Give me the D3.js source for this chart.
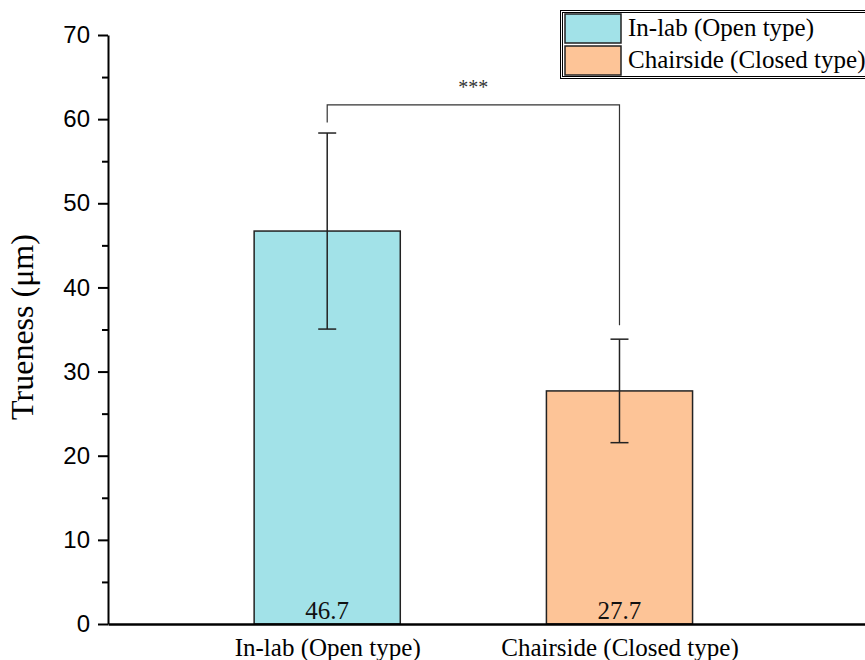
<!DOCTYPE html>
<html>
<head>
<meta charset="utf-8">
<script src="https://cdn.jsdelivr.net/npm/d3@7"></script>
<style>
  html, body { margin: 0; padding: 0; background: #fff; }
  svg { display: block; }
</style>
</head>
<body>
<svg id="chart" width="865" height="660"></svg>
<script>
// Trueness of in-lab vs chairside scanning systems (mean ± SD)
const categories = ["In-lab (Open type)", "Chairside (Closed type)"];
const means = [46.7, 27.7];
const sds = [11.65, 6.15];
const fills = ["#a2e2e8", "#fdc497"];
const yTicks = [0, 10, 20, 30, 40, 50, 60, 70];
const yMinorTicks = [5, 15, 25, 35, 45, 55, 65];
const sigLabel = "***";
const sigLevel = 61.7;
const sigLegEnds = [59.6, 35.5];
const yTitle = "Trueness (μm)";

const svg = d3.select("#chart");
const W = 865, H = 660;
const plotLeft = 108, plotTop = 35, plotBottom = 624;

const y = d3.scaleLinear().domain([0, 70]).range([plotBottom, plotTop]);
// category positions 1 and 2 on a continuous x axis
const x = d3.scaleLinear().domain([0.25, 2.84]).range([plotLeft, W]);
const barHalf = 0.25; // half of bar width in category units

const serif = "'Times New Roman', 'Liberation Serif', serif";
const sans = "Arial, 'Liberation Sans', sans-serif";

// bars
const g = svg.append("g");
g.selectAll("rect.bar")
  .data(means)
  .join("rect")
  .attr("class", "bar")
  .attr("x", (d, i) => x(i + 1 - barHalf))
  .attr("width", (d, i) => x(i + 1 + barHalf) - x(i + 1 - barHalf))
  .attr("y", d => y(d))
  .attr("height", d => y(0) - y(d))
  .attr("fill", (d, i) => fills[i])
  .attr("stroke", "#222")
  .attr("stroke-width", 1.5);

// error bars
const capHalf = 9;
const eb = g.selectAll("g.err").data(means).join("g").attr("class", "err");
eb.append("line")
  .attr("x1", (d, i) => x(i + 1)).attr("x2", (d, i) => x(i + 1))
  .attr("y1", (d, i) => y(d + sds[i])).attr("y2", (d, i) => y(d - sds[i]))
  .attr("stroke", "#222").attr("stroke-width", 1.5);
eb.append("line")
  .attr("x1", (d, i) => x(i + 1) - capHalf).attr("x2", (d, i) => x(i + 1) + capHalf)
  .attr("y1", (d, i) => y(d + sds[i])).attr("y2", (d, i) => y(d + sds[i]))
  .attr("stroke", "#222").attr("stroke-width", 1.5);
eb.append("line")
  .attr("x1", (d, i) => x(i + 1) - capHalf).attr("x2", (d, i) => x(i + 1) + capHalf)
  .attr("y1", (d, i) => y(d - sds[i])).attr("y2", (d, i) => y(d - sds[i]))
  .attr("stroke", "#222").attr("stroke-width", 1.5);

// value labels inside bars
g.selectAll("text.val")
  .data(means)
  .join("text")
  .attr("class", "val")
  .attr("x", (d, i) => x(i + 1))
  .attr("y", plotBottom - 5)
  .attr("text-anchor", "middle")
  .attr("font-family", serif)
  .attr("font-size", 25)
  .attr("fill", "#111")
  .text(d => d.toFixed(1));

// significance bracket
const brX1 = x(1), brX2 = x(2), brY = y(sigLevel);
svg.append("path")
  .attr("d", `M${brX1},${y(sigLegEnds[0])}V${brY}H${brX2}V${y(sigLegEnds[1])}`)
  .attr("fill", "none")
  .attr("stroke", "#333")
  .attr("stroke-width", 1.2);
svg.append("text")
  .attr("x", (brX1 + brX2) / 2)
  .attr("y", brY - 11)
  .attr("text-anchor", "middle")
  .attr("font-family", serif)
  .attr("font-size", 20)
  .attr("fill", "#333")
  .text(sigLabel);

// y axis
const yAxis = d3.axisLeft(y).tickValues(yTicks).tickSize(10).tickSizeOuter(0).tickPadding(8);
const ya = svg.append("g").attr("transform", `translate(${plotLeft},0)`).call(yAxis);
ya.select(".domain").attr("stroke", "#000").attr("stroke-width", 2);
ya.selectAll(".tick line").attr("stroke", "#000").attr("stroke-width", 2);
ya.selectAll(".tick text")
  .attr("font-family", sans).attr("font-size", 24).attr("fill", "#000");
const yMinor = d3.axisLeft(y).tickValues(yMinorTicks).tickSize(6).tickFormat("");
const ym = svg.append("g").attr("transform", `translate(${plotLeft},0)`).call(yMinor);
ym.select(".domain").remove();
ym.selectAll(".tick line").attr("stroke", "#000").attr("stroke-width", 2);

// x axis
const xAxis = d3.axisBottom(x).tickValues([1, 2]).tickSize(0).tickSizeOuter(0).tickPadding(14)
  .tickFormat((d, i) => categories[i]);
const xa = svg.append("g").attr("transform", `translate(0,${plotBottom})`).call(xAxis);
xa.select(".domain").attr("stroke", "#000").attr("stroke-width", 2.5);
xa.selectAll(".tick text")
  .attr("font-family", serif).attr("font-size", 25).attr("fill", "#000");

// y axis title
svg.append("text")
  .attr("transform", `translate(33,327) rotate(-90)`)
  .attr("text-anchor", "middle")
  .attr("font-family", serif)
  .attr("font-size", 32)
  .attr("fill", "#000")
  .text(yTitle);

// legend
const lg = svg.append("g");
lg.append("rect").attr("x", 560.5).attr("y", 10.5).attr("width", 310).attr("height", 68)
  .attr("fill", "#fff").attr("stroke", "#000").attr("stroke-width", 1);
lg.append("rect").attr("x", 562.5).attr("y", 12.5).attr("width", 310).attr("height", 64)
  .attr("fill", "none").attr("stroke", "#000").attr("stroke-width", 1);
categories.forEach((c, i) => {
  lg.append("rect")
    .attr("x", 565).attr("y", 14 + i * 32).attr("width", 56).attr("height", 29)
    .attr("fill", fills[i]).attr("stroke", "#222").attr("stroke-width", 1.5);
  lg.append("text")
    .attr("x", 628).attr("y", 36 + i * 32)
    .attr("font-family", serif).attr("font-size", 25).attr("fill", "#000")
    .text(c);
});
</script>
</body>
</html>
